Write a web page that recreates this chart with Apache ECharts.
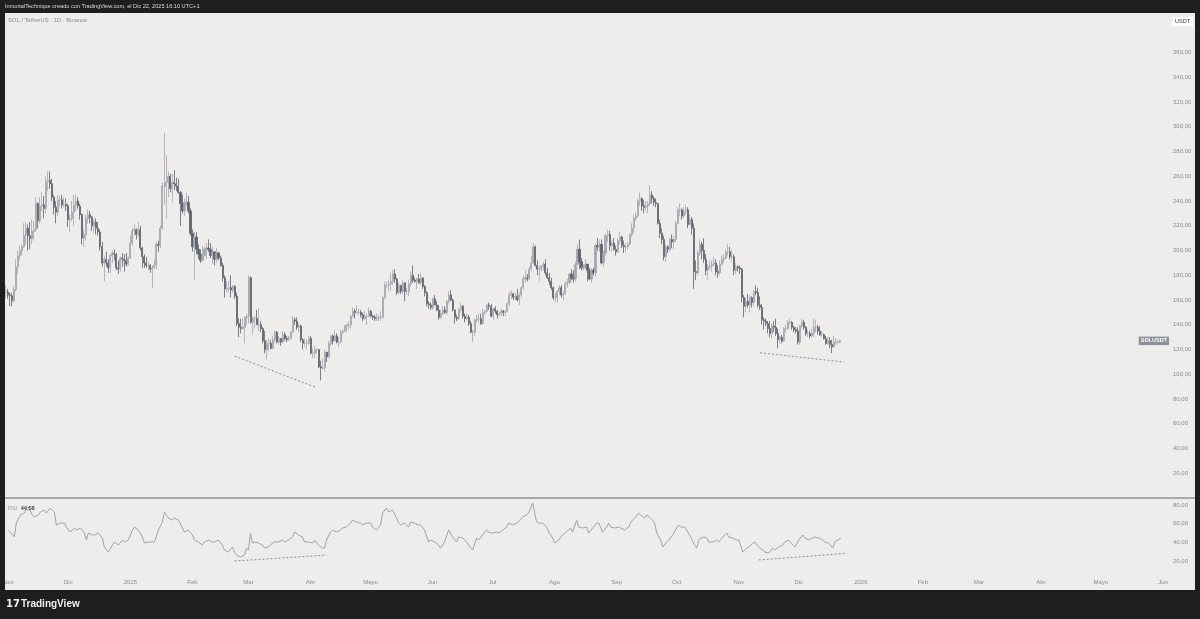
<!DOCTYPE html>
<html><head><meta charset="utf-8">
<script src="https://cdn.jsdelivr.net/npm/echarts@6/dist/echarts.min.js"></script>
<style>
html,body{margin:0;padding:0;background:#1e1e1e;width:1200px;height:619px;overflow:hidden}
#bg{position:absolute;left:5px;top:13px;width:1190px;height:577px;background:#eeedec}
#c{position:absolute;left:0;top:0;width:1200px;height:619px}
</style></head><body><div id="bg"></div><div id="c"></div>
<script>
// ---- data (daily SOL/USDT, Binance, 2024-11-01 .. 2025-12-22) ----
const startDate = '2024-11-01';
const axisDays = 581;           // daily slots on the time axis (incl. empty future)
const firstOpen = 166.3;
const closes = [
 // 2024-11
 166.6,164.0,163.4,159.4,168.6,186.8,195.7,199.6,203.0,212.4,218.0,212.0,209.6,215.6,217.0,238.0,224.0,236.0,237.0,234.0,256.0,256.6,254.0,243.0,235.0,231.0,241.0,241.0,237.0,237.0,
 // 2024-12
 236,225,226,231,237,240,236,229,210,213,226,229,227,220,223,218,215,203,190,193,190,186,196,198,197,186,185,194,193,192,189,
 // 2025-01
 194,206,216,217,213,217,202,195,190,188,188,185,186,188,205,204,218,252,252,255,260,250,255,254,252,247,238,232,239,239,232,
 // 2025-02
 214,203,211,201,197,192,196,201,202,201,196,199,193,198,194,188,178,169,169,170,168,171,163,141,138,137,138,146,
 // 2025-03
 147,178,142,145,145,140,140,137,127,120,125,125,121,128,134,126,129,126,132,129,128,129,134,144,143,138,139,128,125,125,125,
 // 2025-04
 129,117,117,120,120,106,105,105,118,114,125,131,127,131,126,126,134,135,139,140,140,147,151,150,150,150,148,145,147,147,
 // 2025-05
 151,147,146,145,146,146,146,162,172,172,173,175,181,177,166,172,167,174,167,167,173,180,176,175,177,174,178,171,166,157,156,
 // 2025-06
 154,161,156,152,146,149,152,150,159,164,160,152,146,145,152,155,147,145,146,141,134,134,144,145,145,141,150,151,156,155,
 // 2025-07
 147,153,151,148,149,151,150,151,157,164,165,162,163,160,164,170,177,178,177,185,190,203,188,185,185,187,189,182,178,175,170,
 // 2025-08
 162,162,167,170,164,165,173,174,181,178,177,189,201,191,186,186,189,184,177,184,182,204,203,205,190,198,212,213,204,206,201,
 // 2025-09
 199,208,211,204,203,203,205,213,218,226,228,240,242,236,235,236,238,245,242,239,238,222,214,209,195,203,201,209,207,209,
 // 2025-10
 222,233,233,228,232,233,221,225,218,183,182,198,205,200,193,184,187,188,189,190,183,182,189,193,194,199,199,195,195,184,187,
 // 2025-11
 186,185,162,155,159,156,162,158,167,166,156,154,144,143,141,137,133,139,138,133,128,130,127,137,137,142,142,138,136,135,
 // 2025-12
 126,139,142,138,133,133,131,133,138,138,135,132,132,129,125,127,124,122,126,126,126,127
];
const highs = [
 172,169,166,166,171,193,200,204,205,222,223,221,223,225,224,243,239,243,247,244,260,264,264,258,245,240,245,244,245,243,
 242,238,229,240,245,245,243,238,230,217,229,233,232,228,225,226,223,217,207,196,199,193,197,200,201,198,192,195,198,197,198,
 195,212,218,221,218,223,220,203,197,195,191,189,188,193,207,208,220,255,295,277,264,262,262,265,259,258,248,245,242,247,244,
 234,217,215,215,205,201,204,203,206,209,206,203,199,202,199,196,190,180,175,175,180,172,172,166,145,145,145,147,
 149,180,179,147,147,152,153,143,138,135,128,129,128,131,135,135,131,129,135,134,131,131,135,147,146,146,141,140,129,129,128,
 131,131,121,123,121,120,111,113,120,118,127,132,132,136,133,130,136,136,140,141,143,148,154,153,156,153,152,150,151,149,
 154,152,148,148,149,148,151,163,175,175,176,182,184,185,178,174,172,176,174,170,176,183,188,178,178,181,182,178,172,167,159,
 158,162,164,159,156,152,155,155,160,167,168,161,152,148,154,158,156,149,149,148,143,136,145,148,149,149,153,152,157,158,
 157,154,155,152,150,153,152,152,158,167,168,166,166,169,166,171,180,184,181,187,196,206,204,192,188,188,191,193,186,182,178,
 171,166,168,172,172,167,175,177,182,185,184,191,205,209,194,189,193,189,186,186,186,206,210,209,209,200,214,217,216,208,210,
 204,210,215,212,208,206,207,214,222,229,231,242,247,243,241,240,240,253,248,244,242,238,225,218,212,205,204,210,213,212,
 224,235,238,234,235,237,235,229,227,222,192,200,209,207,210,197,189,192,192,195,193,188,192,196,197,201,205,203,201,197,190,
 188,188,186,164,162,165,164,163,168,172,170,163,157,146,145,143,143,141,143,145,137,131,132,138,140,144,145,143,139,138,
 138,140,145,144,139,136,135,137,145,144,140,139,135,133,131,130,130,128,131,129,128,128
];
const lows = [
 162,161,155,155,158,167,181,192,196,202,205,200,201,205,208,215,218,222,232,226,230,248,250,240,229,222,228,236,234,235,
 232,219,215,224,220,232,234,225,205,203,208,222,222,216,214,213,212,200,187,175,187,182,182,190,192,184,181,183,187,183,187,
 188,193,204,212,209,211,200,186,186,186,184,182,170,185,185,199,202,217,237,226,243,247,239,249,248,246,220,230,228,236,230,
 212,199,176,197,193,190,191,195,193,199,194,189,188,190,192,187,175,162,166,166,162,166,161,139,130,133,136,125,
 140,141,141,132,137,140,135,134,125,117,112,119,120,120,126,125,124,123,125,127,126,127,128,134,140,136,134,126,120,122,120,
 124,116,113,113,117,105,95,104,102,110,113,123,124,126,125,122,125,132,134,134,136,137,146,145,149,148,146,143,144,140,
 146,146,144,143,143,143,143,145,161,170,167,168,172,174,164,165,165,165,159,164,163,171,174,174,169,173,172,169,163,155,153,
 152,152,156,151,144,145,148,149,148,157,159,151,141,143,144,150,145,142,144,139,133,126,131,142,142,140,140,148,150,152,
 146,144,149,145,147,147,147,147,150,155,161,160,160,159,156,162,168,174,175,176,183,189,187,180,175,183,184,180,177,172,168,
 160,158,158,164,162,160,164,170,173,176,174,175,188,185,184,184,185,175,176,174,180,179,200,199,189,187,196,207,200,199,200,
 196,198,205,202,198,199,201,204,211,214,224,227,236,232,230,232,230,236,238,236,235,221,210,205,192,191,198,199,202,201,
 207,221,228,225,226,229,218,220,213,169,176,180,196,193,190,180,176,185,183,187,180,178,180,188,190,193,196,193,191,180,181,
 183,181,158,146,150,154,150,154,155,164,154,152,140,136,139,133,130,129,134,131,121,125,125,126,134,136,140,136,134,133,
 124,124,137,136,131,130,129,130,130,134,132,131,130,128,124,124,121,117,122,124,124,125
];
// RSI(14): [day number since 2024-11-01, value]
const rsiPoints = [
 [0,53.2],[3,46.0],[4,60.7],[6,69.3],[8,71.4],[9,76.8],[10,78.2],[12,69.3],[13,67.2],[15,69.3],[16,72.5],[18,74.7],[19,71.4],[21,76.8],[23,72.5],[24,58.6],[26,60.7],[28,60.7],[29,56.4],[31,51.1],[33,55.4],[34,53.2],[36,55.4],[38,50.0],[39,42.5],[40,50.0],[42,47.9],[43,47.9],[45,50.0],[47,44.7],[48,35.0],[50,29.6],[52,37.1],[53,40.4],[55,37.1],[57,42.5],[58,40.4],[60,42.5],[62,53.2],[63,56.4],[65,53.2],[67,45.7],[68,39.3],[70,40.4],[72,40.4],[73,40.4],[75,53.2],[77,61.8],[78,72.5],[80,66.1],[82,63.9],[83,66.1],[85,63.9],[87,55.4],[88,51.1],[90,53.2],[92,47.9],[93,42.5],[95,40.4],[97,37.1],[98,40.4],[100,42.5],[102,40.4],[103,40.4],[105,42.5],[107,37.1],[108,31.8],[110,29.6],[112,35.0],[113,29.6],[114,26.4],[116,24.3],[118,26.4],[119,33.9],[120,31.8],[121,50.0],[122,39.3],[123,40.4],[125,39.3],[127,37.1],[128,33.9],[130,35.0],[132,39.3],[133,40.4],[135,40.4],[137,42.5],[138,40.4],[140,42.5],[142,45.7],[143,51.1],[145,47.9],[147,45.7],[148,40.4],[150,40.4],[152,39.3],[153,42.5],[155,37.1],[157,33.9],[158,33.9],[159,42.5],[161,51.1],[162,53.2],[164,51.1],[166,53.2],[167,55.4],[169,56.4],[171,60.7],[172,63.9],[174,61.8],[176,60.7],[177,58.6],[179,60.7],[181,60.7],[182,56.4],[184,53.2],[186,58.6],[187,71.4],[189,76.8],[190,72.5],[192,74.7],[194,66.1],[195,60.7],
 [196,58.6],[198,60.7],[200,56.4],[201,61.8],[203,60.7],[205,58.6],[206,58.6],[208,53.2],[210,40.4],[211,42.5],[213,40.4],[215,37.1],[216,33.9],[218,40.4],[220,53.2],[222,45.7],[224,40.4],[225,45.7],[227,44.7],[229,40.4],[230,37.1],[232,31.8],[234,44.7],[235,42.5],[237,47.9],[239,53.2],[240,51.1],[242,50.0],[244,51.1],[245,50.0],[247,53.2],[249,56.4],[250,60.7],[252,58.6],[254,60.7],[255,61.8],[257,67.2],[259,69.3],[260,71.4],[262,82.2],[264,61.8],[265,60.7],[267,60.7],[269,56.4],[270,51.1],[272,44.7],[273,39.3],[275,42.5],[276,45.7],[278,50.0],[280,53.2],[281,55.4],[282,51.1],[284,63.9],[285,56.4],[287,55.4],[289,56.4],[290,50.0],[292,55.4],[294,60.7],[295,60.7],[297,51.1],[299,56.4],[300,60.7],[301,56.4],[303,55.4],[305,56.4],[306,55.4],[308,53.2],[310,56.4],[311,61.8],[313,66.1],[315,71.4],[316,69.3],[318,66.1],[319,69.3],[321,66.1],[323,60.7],[324,50.0],[326,42.5],[327,35.0],[329,40.4],[330,42.5],[332,47.9],[334,55.4],[335,58.6],[336,56.4],[338,56.4],[339,53.2],[341,45.7],[343,37.1],[344,33.9],[345,42.5],[347,45.7],[349,44.7],[350,40.4],[352,40.4],[354,42.5],[355,40.4],[357,45.7],[359,50.0],[360,45.7],[362,44.7],[364,42.5],[365,42.5],[367,29.6],[369,33.9],[370,35.0],[372,39.3],[373,40.4],[375,35.0],[377,31.8],[378,29.6],[380,28.6],[382,33.9],[383,31.8],[385,35.0],[387,37.1],[388,40.4],[390,42.5],[392,37.1],[393,35.0],[395,42.5],[397,47.9],[398,44.7],[400,42.5],[402,44.7],[403,45.7],[405,44.7],[407,42.5],[408,40.4],[410,39.3],[412,33.9],[413,40.4],[416,44.58]
];
const monthTicks = ['2024-11-01','2024-12-01','2025-01-01','2025-02-01','2025-03-01','2025-04-01','2025-05-01','2025-06-01','2025-07-01','2025-08-01','2025-09-01','2025-10-01','2025-11-01','2025-12-01','2026-01-01','2026-02-01','2026-03-01','2026-04-01','2026-05-01','2026-06-01'];
const monthTickLabels = ['Nov','Dic','2025','Feb','Mar','Abr','Mayo','Jun','Jul','Ago','Sep','Oct','Nov','Dic','2026','Feb','Mar','Abr','Mayo','Jun'];
const priceTrendLines = [[['2025-02-23',114.7],['2025-04-05',89.1]],[['2025-11-12',117.4],['2025-12-24',109.9]]];
const rsiTrendLines = [[['2025-02-22',20.0],['2025-04-09',26.4]],[['2025-11-11',21.1],['2025-12-25',28.3]]];
const headerText = 'InmortalTechnique creado con TradingView.com, el Dic 22, 2025 16:10 UTC+1';
const symbolTitle = 'SOL / TetherUS · 1D · Binance';
const symbolTag = 'SOLUSDT';

// ---- build ----
const dates = [];
{
  const d0 = new Date(startDate + 'T00:00:00Z');
  for (let i = 0; i < axisDays; i++) {
    const d = new Date(d0.getTime() + i * 86400000);
    dates.push(d.toISOString().slice(0, 10));
  }
}
const candles = closes.map((c, i) => [i === 0 ? firstOpen : closes[i - 1], c, lows[i], highs[i]]);
const rsiData = rsiPoints.map(p => [dates[p[0]], p[1]]);
const lastClose = closes[closes.length - 1];
const lastRsi = rsiPoints[rsiPoints.length - 1][1];
const fmt = v => v.toFixed(2).replace('.', ',');
const FONT = 'Liberation Sans';
const axisGray = '#8a8a8a';

const chart = echarts.init(document.getElementById('c'), null, {renderer: 'canvas'});
const xLabel = {
  interval: (idx, val) => monthTicks.indexOf(val) >= 0,
  formatter: val => { const k = monthTicks.indexOf(val); return k >= 0 ? monthTickLabels[k] : ''; },
  fontSize: 6, color: axisGray, fontFamily: FONT, margin: 0, hideOverlap: false
};
chart.setOption({
  animation: false,
  backgroundColor: 'transparent',
  grid: [
    {left: 5, top: 13, width: 1165, height: 485},
    {left: 5, top: 499, width: 1165, height: 80.7}
  ],
  xAxis: [
    {type: 'category', gridIndex: 0, data: dates, boundaryGap: true, axisLine: {show: false}, axisTick: {show: false}, axisLabel: {show: false}, splitLine: {show: false}},
    {type: 'category', gridIndex: 1, data: dates, boundaryGap: true, axisLine: {show: false}, axisTick: {show: false}, axisLabel: xLabel, splitLine: {show: false}}
  ],
  yAxis: [
    {type: 'value', gridIndex: 0, position: 'right', min: 0, max: 392, interval: 20,
     axisLine: {show: false}, axisTick: {show: false}, splitLine: {show: false},
     axisLabel: {fontSize: 6, color: axisGray, fontFamily: FONT, margin: 3,
       formatter: v => (v > 0 && v <= 360) ? fmt(v) : ''}},
    {type: 'value', gridIndex: 1, position: 'right', min: 0, max: 86.47, interval: 20,
     axisLine: {show: false}, axisTick: {show: false}, splitLine: {show: false},
     axisLabel: {fontSize: 6, color: axisGray, fontFamily: FONT, margin: 3,
       formatter: v => (v > 0 && v <= 80) ? fmt(v) : ''}}
  ],
  series: [
    {
      type: 'candlestick', xAxisIndex: 0, yAxisIndex: 0, data: candles, barWidth: 1.6,
      itemStyle: {color: '#a4a7b0', color0: '#5f626c', borderColor: '#a4a7b0', borderColor0: '#5f626c', borderWidth: 0.8},
      markLine: {
        silent: true, symbol: ['none', 'none'], animation: false,
        label: {show: false},
        lineStyle: {color: '#8c8c8c', type: [2, 2], width: 1},
        data: priceTrendLines.map(l => [{coord: l[0]}, {coord: l[1]}])
      }
    },
    {
      type: 'line', xAxisIndex: 0, yAxisIndex: 0, data: [[dates[0], lastClose], [dates[dates.length - 1], lastClose]],
      symbol: 'none', lineStyle: {width: 0, opacity: 0}, silent: true, z: 5,
      markLine: {
        silent: true, symbol: ['none', 'none'], animation: false,
        lineStyle: {color: 'rgba(0,0,0,0)', width: 0},
        label: {show: true, position: 'insideEnd', distance: 1, formatter: symbolTag,
          backgroundColor: '#8d9098', color: '#ffffff', fontSize: 5.5, fontWeight: 'bold', fontFamily: FONT, padding: [1.5, 2, 1, 2]},
        data: [{yAxis: lastClose}]
      }
    },
    {
      type: 'line', xAxisIndex: 1, yAxisIndex: 1, data: rsiData, showSymbol: false, symbol: 'none',
      lineStyle: {color: '#a2a2a2', width: 1}, z: 3,
      markLine: {
        silent: true, symbol: ['none', 'none'], animation: false, label: {show: false},
        lineStyle: {color: '#8c8c8c', type: [2, 2], width: 1},
        data: rsiTrendLines.map(l => [{coord: l[0]}, {coord: l[1]}])
      }
    }
  ],
  graphic: [
    {type: 'rect', z: 100, shape: {x: 0, y: 0, width: 1200, height: 13}, style: {fill: '#1e1e1e'}},
    {type: 'rect', z: 100, shape: {x: 0, y: 0, width: 5, height: 619}, style: {fill: '#1e1e1e'}},
    {type: 'rect', z: 100, shape: {x: 1195, y: 0, width: 5, height: 619}, style: {fill: '#1e1e1e'}},
    {type: 'rect', z: 100, shape: {x: 0, y: 590, width: 1200, height: 29}, style: {fill: '#1e1e1e'}},
    {type: 'rect', z: 99, shape: {x: 5, y: 497, width: 1190, height: 2}, style: {fill: '#a8a8a8'}},
    {type: 'text', z: 101, left: 5, top: 3, style: {text: headerText, fill: '#dcdcdc', font: '5.6px "Liberation Sans"'}},
    {type: 'text', z: 101, left: 8, top: 17, style: {text: symbolTitle, fill: '#8a8a8a', font: '5.8px "Liberation Sans"'}},
    {type: 'rect', z: 101, shape: {x: 1172, y: 17, width: 21, height: 9}, style: {fill: '#ffffff'}},
    {type: 'text', z: 102, x: 1182.5, y: 21.5, style: {text: 'USDT', fill: '#333333', font: '5.5px "Liberation Sans"', align: 'center', verticalAlign: 'middle'}},
    {type: 'text', z: 101, left: 8, top: 502, style: {
      text: '{a|RSI} {b|' + fmt(lastRsi) + '}',
      rich: {a: {fill: '#9a9a9a', font: '5.6px "Liberation Sans"'}, b: {fill: '#444444', font: 'bold 5.6px "Liberation Sans"'}}}},
    {type: 'text', z: 101, left: 6, top: 599, style: {text: '17', fill: '#f0f0f0', font: '900 10px "DejaVu Sans"'}},
    {type: 'text', z: 101, left: 21, top: 599, style: {text: 'TradingView', fill: '#f0f0f0', font: 'bold 10px "Liberation Sans"'}}
  ]
});
</script></body></html>
